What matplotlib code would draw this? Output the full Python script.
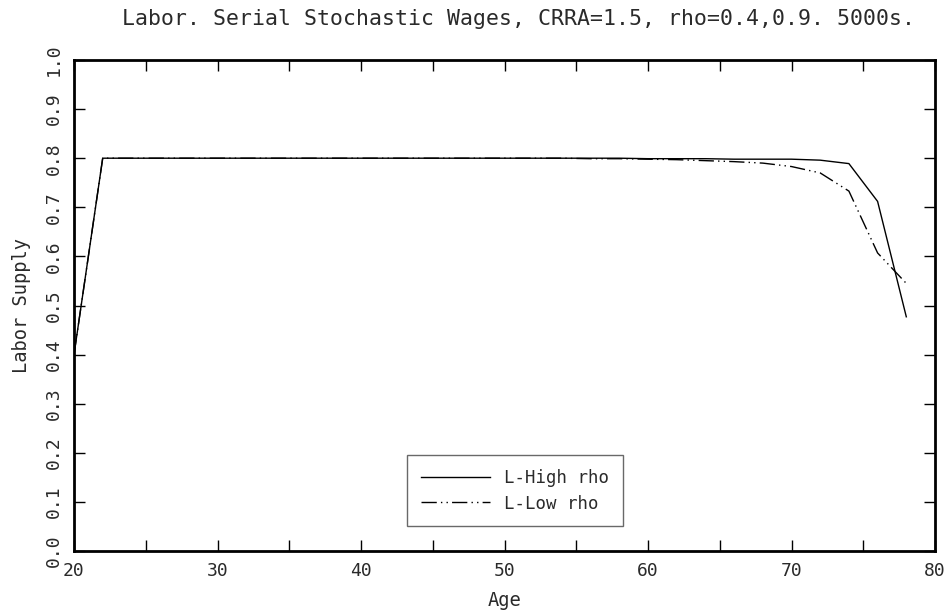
import matplotlib
matplotlib.use("Agg")
import matplotlib.pyplot as plt
from matplotlib.ticker import MultipleLocator

ages = [20, 22, 24, 26, 28, 30, 32, 34, 36, 38, 40, 42, 44, 46, 48, 50,
        52, 54, 56, 58, 60, 62, 64, 66, 68, 70, 72, 74, 76, 78]
high_rho = [0.40, 0.80, 0.80, 0.80, 0.80, 0.80, 0.80, 0.80, 0.80, 0.80,
            0.80, 0.80, 0.80, 0.80, 0.80, 0.80, 0.80, 0.80, 0.80, 0.80,
            0.799, 0.799, 0.799, 0.798, 0.798, 0.798, 0.796, 0.789, 0.712, 0.477]
low_rho = [0.40, 0.80, 0.80, 0.80, 0.80, 0.80, 0.80, 0.80, 0.80, 0.80,
           0.80, 0.80, 0.80, 0.80, 0.80, 0.80, 0.80, 0.80, 0.799, 0.799,
           0.798, 0.797, 0.795, 0.793, 0.790, 0.783, 0.770, 0.733, 0.607, 0.545]

title = "Labor. Serial Stochastic Wages, CRRA=1.5, rho=0.4,0.9. 5000s."
xlabel = "Age"
ylabel = "Labor Supply"
labels = ["L-High rho", "L-Low rho"]

plt.rcParams['font.family'] = ['DejaVu Sans Mono', 'DejaVu Sans']
txtc = "#2a2a2a"

fig = plt.figure(figsize=(9.5, 6.13), dpi=100)
ax = fig.add_axes([74/950, 62/613, (935-74)/950, (551-60)/613])

ax.plot(ages, high_rho, color="black", lw=1.0, label=labels[0])
ax.plot(ages, low_rho, color="black", lw=1.0, linestyle=(0, (11, 3, 1, 3, 1, 3)),
        label=labels[1])

ax.set_xlim(20, 80)
ax.set_ylim(0, 1.0)
ax.xaxis.set_major_locator(MultipleLocator(10))
ax.xaxis.set_minor_locator(MultipleLocator(5))
ax.tick_params(which="both", direction="in", top=True, right=True,
               color="black", width=1.0, length=8)
ax.tick_params(axis="x", labelsize=13, labelcolor=txtc, pad=8)
ax.tick_params(axis="y", labelsize=13, labelcolor=txtc, pad=8)
ax.set_yticks([i/10 for i in range(11)])
ax.set_yticklabels([f"{i/10:.1f}" for i in range(11)], rotation=90, va="center")
for s in ax.spines.values():
    s.set_linewidth(2)

ax.set_xlabel(xlabel, fontsize=13.5, color=txtc, labelpad=8)
ax.set_ylabel(ylabel, fontsize=13.5, color=txtc, labelpad=10)
fig.text(518/950, 1 - 19/613, title, fontsize=15.5, color=txtc, ha="center", va="center")

leg = ax.legend(loc="lower center", bbox_to_anchor=((515-74)/861, 0.05),
                frameon=True, fancybox=False, fontsize=12.5, handlelength=4.0,
                handletextpad=0.8, borderpad=0.8, labelspacing=0.45,
                borderaxespad=0, edgecolor="#444444")
leg.get_frame().set_linewidth(1.0)
for t in leg.get_texts():
    t.set_color(txtc)

fig.savefig("out.png", dpi=100)
